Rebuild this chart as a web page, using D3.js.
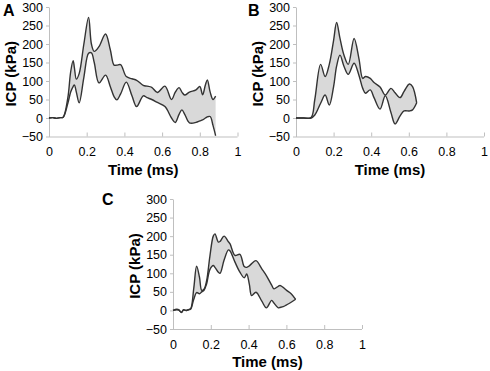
<!DOCTYPE html>
<html>
<head>
<meta charset="utf-8">
<script src="https://cdn.jsdelivr.net/npm/d3@7"></script>
<style>
    body { margin: 0; background: #fff; }
    svg { display: block; font-family: "Liberation Sans", Arial, sans-serif; }
    .axis path, .axis line { stroke: #bfbfbf; }
    .axis text { font-size: 12.5px; fill: #000; }
    .band { fill: #d9d9d9; stroke: none; }
    .trace { fill: none; stroke: #333; stroke-width: 1.4; }
</style>
</head>
<body>
<svg id="chart" width="490" height="371"></svg>
<script>

// ICP envelope, panel A (time in ms, pressure in kPa)
var timeA  = [0, 0.02, 0.04, 0.06, 0.075, 0.1, 0.115, 0.128, 0.135, 0.145, 0.16, 0.185, 0.21, 0.225,
              0.24, 0.265, 0.3, 0.325, 0.345, 0.36, 0.38, 0.41, 0.44, 0.465, 0.5, 0.52, 0.545, 0.575,
              0.615, 0.65, 0.67, 0.69, 0.705, 0.72, 0.745, 0.78, 0.8, 0.815, 0.83, 0.84, 0.855, 0.87, 0.884];
var upperA = [0, 1, -1, 1, 2, 55, 125, 155, 135, 105, 120, 200, 272, 200,
              180, 193, 227, 185, 143, 143, 144, 112, 106, 102, 88, 86, 83, 69,
              86, 50, 70, 82, 70, 62, 70, 76, 85, 63, 90, 103, 70, 50, 59];
var lowerA = [0, 1, -1, 1, 2, 40, 70, 85, 89, 70, 41, 110, 175, 176,
              150, 95, 116, 85, 58, 49, 65, 97, 60, 31, 60, 55, 50, 42,
              31, 0, -12, 10, 22, 10, -13, -12, -8, -5, 0, 3, 4, -20, -48];

// panel B
var timeB  = [0, 0.04, 0.08, 0.1, 0.131, 0.155, 0.177, 0.2, 0.216, 0.234, 0.255, 0.278, 0.309, 0.335,
              0.355, 0.37, 0.395, 0.415, 0.447, 0.475, 0.505, 0.527, 0.553, 0.575, 0.603, 0.62, 0.642];
var upperB = [0, 0, 1, 50, 145, 112, 145, 210, 258, 215, 170, 145, 215, 160,
              107, 112, 107, 96, 84, 62, 80, 68, 55, 72, 92, 85, 41];
var lowerB = [0, 0, 0, 8, 40, 62, 35, 85, 140, 170, 140, 118, 148, 115,
              80, 67, 76, 55, 24, 60, 15, -16, 5, 19, 19, 22, 41];

// panel C
var timeC  = [0, 0.02, 0.03, 0.045, 0.055, 0.07, 0.085, 0.094, 0.11, 0.125, 0.14, 0.152, 0.165, 0.178,
              0.195, 0.213, 0.222, 0.24, 0.249, 0.27, 0.293, 0.302, 0.328, 0.354, 0.377, 0.39, 0.404,
              0.416, 0.439, 0.47, 0.494, 0.522, 0.534, 0.557, 0.566, 0.583, 0.601, 0.625, 0.649];
var upperC = [0, 3, 2, -6, 2, 0, 3, 5, 60, 119, 90, 54, 58, 80,
              145, 200, 206, 184, 186, 200, 185, 179, 148, 151, 118, 116, 120,
              126, 134, 112, 94, 68, 58, 65, 67, 62, 54, 45, 30];
var lowerC = [0, 2, 1, -5, 1, 0, 2, 4, 30, 48, 45, 50, 55, 72,
              110, 121, 116, 103, 100, 135, 163, 160, 130, 103, 88, 98, 70,
              40, 49, 25, 7, 27, 20, 7, 8, 10, 15, 22, 30];

var timeTicks = [0, 0.2, 0.4, 0.6, 0.8, 1];
var icpTicks = [-50, 0, 50, 100, 150, 200, 250, 300];

var panels = [
    { label: "A", t: timeA, hi: upperA, lo: lowerA, x: [49, 237.5], y: [136.5, 7],   lx: 3,   ly: 16 },
    { label: "B", t: timeB, hi: upperB, lo: lowerB, x: [296, 484],  y: [136.5, 7],   lx: 248, ly: 16 },
    { label: "C", t: timeC, hi: upperC, lo: lowerC, x: [173, 362],  y: [329, 199],   lx: 102, ly: 205 }
];

var svg = d3.select("#chart");

function drawPanel(p) {
    var x = d3.scaleLinear().domain([0, 1]).range(p.x);
    var y = d3.scaleLinear().domain([-50, 300]).range(p.y);
    var g = svg.append("g");

    var curve = d3.curveCatmullRom.alpha(0.5);
    var rows = p.t.map((t, i) => ({ t: t, hi: p.hi[i], lo: p.lo[i] }));

    var area = d3.area()
        .curve(curve)
        .x(d => x(d.t))
        .y0(d => y(d.lo))
        .y1(d => y(d.hi));

    g.append("path")
        .attr("class", "band")
        .attr("d", area(rows));

    g.append("g")
        .attr("class", "axis")
        .attr("transform", "translate(0," + y(-50) + ")")
        .call(d3.axisBottom(x).tickValues(timeTicks).tickFormat(d3.format("~g"))
            .tickSizeInner(-4).tickSizeOuter(0).tickPadding(11))
        .call(a => a.select(".domain").attr("d", "M" + p.x[0] + ",0.5H" + p.x[1]));

    g.append("g")
        .attr("class", "axis")
        .attr("transform", "translate(" + p.x[0] + ",0)")
        .call(d3.axisLeft(y).tickValues(icpTicks).tickSizeInner(3).tickSizeOuter(0).tickPadding(3));

    ["hi", "lo"].forEach(k => {
        g.append("path")
            .attr("class", "trace")
            .attr("d", d3.line().curve(curve).x(d => x(d.t)).y(d => y(d[k]))(rows));
    });

    // axis titles
    var cy = (p.y[0] + p.y[1]) / 2 + 2;
    g.append("text")
        .attr("transform", "translate(" + (p.x[0] - 33) + "," + cy + ") rotate(-90)")
        .attr("text-anchor", "middle")
        .style("font-size", "15px")
        .style("font-weight", "bold")
        .text("ICP (kPa)");

    g.append("text")
        .attr("x", (p.x[0] + p.x[1]) / 2)
        .attr("y", p.y[0] + 38)
        .attr("text-anchor", "middle")
        .style("font-size", "15px")
        .style("font-weight", "bold")
        .text("Time (ms)");

    g.append("text")
        .attr("x", p.lx)
        .attr("y", p.ly)
        .style("font-size", "16px")
        .style("font-weight", "bold")
        .text(p.label);
}

panels.forEach(drawPanel);

</script>
</body>
</html>
